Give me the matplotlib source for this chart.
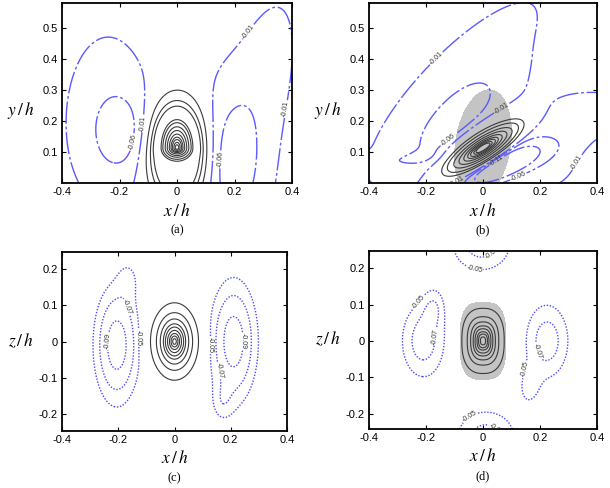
import numpy as np
import matplotlib
matplotlib.use("Agg")
import matplotlib.pyplot as plt

plt.rcParams['font.family'] = ['Liberation Sans', 'DejaVu Sans']
plt.rcParams['mathtext.fontset'] = 'stix'

# ---------------- data: blob parameters describing each field ----------------
# amplitude, x centre, y centre, sigma along u, sigma along +v, sigma along -v, angle (deg), exponent
a_amp = [4.0, 0.35, -0.075, -0.035, -0.085, -0.03]
a_xc = [0.0, 0.0, -0.20, -0.24, 0.20, 0.27]
a_yc = [0.113, 0.10, 0.165, 0.20, 0.06, 0.25]
a_su = [0.024, 0.06, 0.06, 0.09, 0.065, 0.07]
a_sv = [0.040, 0.10, 0.085, 0.17, 0.15, 0.22]
a_svlo = [0.017, 0.10, 0.085, 0.17, 0.15, 0.22]
a_ang = [0, 0, 0, 0, 0, -15]
a_pw = [2, 2, 2, 2, 2, 2]

b_amp = [4.0, 0.3, -0.08, -0.035, -0.16, -0.07, -0.025, 0.02, -0.03]
b_xc = [0.0, -0.005, -0.09, -0.10, 0.045, 0.15, 0.20, 0.42, -0.32]
b_yc = [0.113, 0.12, 0.20, 0.31, 0.045, 0.09, 0.12, 0.08, 0.07]
b_su = [0.064, 0.09, 0.14, 0.24, 0.085, 0.10, 0.25, 0.07, 0.20]
b_sv = [0.018, 0.035, 0.05, 0.07, 0.028, 0.04, 0.10, 0.05, 0.018]
b_svlo = b_sv
b_ang = [30, 30, 40, 43, 22, 15, 20, 0, 5]
b_pw = [2, 2, 2, 2, 2, 2, 2, 2, 2]

b_shade_amp = [1.0]
b_shade_xc = [0.0]
b_shade_yc = [0.125]
b_shade_su = [0.175]
b_shade_sv = [0.095]
b_shade_ang = [80]
b_shade_pw = [2]
b_shade_level = 0.6

c_amp = [4.0, -0.10, -0.025, -0.10, -0.025]
c_xc = [0.0, -0.205, -0.16, 0.21, 0.165]
c_yc = [0.0, -0.01, 0.18, 0.0, -0.175]
c_su = [0.035, 0.072, 0.03, 0.075, 0.03]
c_sv = [0.043, 0.145, 0.04, 0.15, 0.04]
c_svlo = c_sv
c_ang = [0, 0, 0, 0, 0]
c_pw = [2, 2, 2, 2, 2]

d_amp = [4.0, -0.08, -0.03, -0.08, -0.035, -0.08, -0.08]
d_xc = [0.0, -0.21, -0.17, 0.225, 0.16, -0.005, 0.01]
d_yc = [0.0, 0.0, 0.10, 0.0, -0.13, 0.27, -0.27]
d_su = [0.0375, 0.075, 0.03, 0.075, 0.03, 0.10, 0.10]
d_sv = [0.045, 0.10, 0.04, 0.10, 0.04, 0.076, 0.076]
d_svlo = d_sv
d_ang = [0, 0, 0, 0, 0, 0, 0]
d_pw = [2.5, 2, 2, 2, 2, 2, 2]

d_shade_amp = [1.0]
d_shade_xc = [0.0]
d_shade_yc = [0.0]
d_shade_su = [0.08]
d_shade_sv = [0.105]
d_shade_ang = [0]
d_shade_pw = [3]
d_shade_level = 0.6

a_pos_levels = [0.047, 0.09, 0.13, 0.5, 0.73, 1.19, 1.77, 2.45, 3.06, 3.51, 3.95, 4.21]
a_neg_levels = [-0.11, -0.06, -0.01]
b_pos_levels = [0.18, 0.4, 0.86, 1.44, 2.12, 2.73, 3.18, 3.62, 3.88]
b_neg_levels = [-0.11, -0.06, -0.01]
c_pos_levels = [0.18, 0.72, 1.4, 2.1, 2.6, 3.1, 3.5, 3.76, 3.93]
c_neg_levels = [-0.09, -0.07, -0.05]
d_pos_levels = [0.24, 1.06, 1.94, 2.67, 3.16, 3.56, 3.78, 3.94]
d_neg_levels = [-0.07, -0.05]

x_ticks = [-0.4, -0.2, 0, 0.2, 0.4]
x_ticklabels = ['-0.4', '-0.2', '0', '0.2', '0.4']
y_ticks_ab = [0.1, 0.2, 0.3, 0.4, 0.5]
y_ticklabels_ab = ['0.1', '0.2', '0.3', '0.4', '0.5']
y_ticks_cd = [-0.2, -0.1, 0, 0.1, 0.2]
y_ticklabels_cd = ['-0.2', '-0.1', '0', '0.1', '0.2']
captions = ['(a)', '(b)', '(c)', '(d)']


def field(X, Y, amp, xc, yc, su, sv, svlo, ang, pw):
    Z = np.zeros_like(X)
    for A, x0, y0, a, b, blo, t, p in zip(amp, xc, yc, su, sv, svlo, ang, pw):
        th = np.deg2rad(t)
        dx, dy = X - x0, Y - y0
        u = dx * np.cos(th) + dy * np.sin(th)
        v = -dx * np.sin(th) + dy * np.cos(th)
        bb = np.where(v >= 0, b, blo)
        Z += A * np.exp(-0.5 * (np.abs(u / a) ** p + np.abs(v / bb) ** p))
    return Z


fig = plt.figure(figsize=(6.1, 4.88), dpi=100)
positions = [
    [62 / 610, 1 - 183 / 488, 230 / 610, 180 / 488],
    [369 / 610, 1 - 183 / 488, 228 / 610, 180 / 488],
    [62 / 610, 1 - 431 / 488, 225 / 610, 179 / 488],
    [369 / 610, 1 - 429 / 488, 228 / 610, 178 / 488],
]

xg = np.linspace(-0.4, 0.4, 401)
yg_ab = np.linspace(0.0, 0.58, 291)
yg_cd = np.linspace(-0.25, 0.25, 251)

blue_ab = '#5a5aff'
blue_cd = '#4a4aff'
black = '#3a3a3a'
shade = '#c4c4c4'

panels = [
    dict(params=(a_amp, a_xc, a_yc, a_su, a_sv, a_svlo, a_ang, a_pw), pos=a_pos_levels, neg=a_neg_levels,
         yg=yg_ab, ylim=(0, 0.58), yt=y_ticks_ab, ytl=y_ticklabels_ab, ylab=r'$y\,/\,h$', ls=(0, (16, 2, 2, 2)),
         blue=blue_ab, shade=None),
    dict(params=(b_amp, b_xc, b_yc, b_su, b_sv, b_svlo, b_ang, b_pw), pos=b_pos_levels, neg=b_neg_levels,
         yg=yg_ab, ylim=(0, 0.58), yt=y_ticks_ab, ytl=y_ticklabels_ab, ylab=r'$y\,/\,h$', ls=(0, (16, 2, 2, 2)),
         blue=blue_ab,
         shade=((b_shade_amp, b_shade_xc, b_shade_yc, b_shade_su, b_shade_sv, b_shade_sv, b_shade_ang, b_shade_pw),
                b_shade_level)),
    dict(params=(c_amp, c_xc, c_yc, c_su, c_sv, c_svlo, c_ang, c_pw), pos=c_pos_levels, neg=c_neg_levels,
         yg=yg_cd, ylim=(-0.247, 0.247), yt=y_ticks_cd, ytl=y_ticklabels_cd, ylab=r'$z\,/\,h$', ls=(0, (1, 1.2)),
         blue=blue_cd, shade=None),
    dict(params=(d_amp, d_xc, d_yc, d_su, d_sv, d_svlo, d_ang, d_pw), pos=d_pos_levels, neg=d_neg_levels,
         yg=yg_cd, ylim=(-0.242, 0.247), yt=y_ticks_cd, ytl=y_ticklabels_cd, ylab=r'$z\,/\,h$', ls=(0, (1, 1.2)),
         blue=blue_cd,
         shade=((d_shade_amp, d_shade_xc, d_shade_yc, d_shade_su, d_shade_sv, d_shade_sv, d_shade_ang, d_shade_pw),
                d_shade_level)),
]

for i, p in enumerate(panels):
    ax = fig.add_axes(positions[i])
    X, Y = np.meshgrid(xg, p['yg'])
    if p['shade'] is not None:
        sp, lev = p['shade']
        S = field(X, Y, *sp)
        ax.contourf(X, Y, S, levels=[lev, 10], colors=[shade])
    Z = field(X, Y, *p['params'])
    ax.contour(X, Y, Z, levels=p['pos'], colors=black, linewidths=0.8)
    cn = ax.contour(X, Y, Z, levels=p['neg'], colors=p['blue'], linewidths=1.0)
    cn.set_linestyle(p['ls'])
    ax.clabel(cn, fmt='%.2f', fontsize=5, colors='#333333', inline=True, inline_spacing=1)
    ax.set_xlim(-0.4, 0.4)
    ax.set_ylim(*p['ylim'])
    ax.set_xticks(x_ticks)
    ax.set_xticklabels(x_ticklabels)
    ax.set_yticks(p['yt'])
    ax.set_yticklabels(p['ytl'])
    ax.tick_params(direction='in', top=True, right=True, length=3, width=0.8,
                   labelsize=8, pad=3, colors='black')
    for s in ax.spines.values():
        s.set_linewidth(1.3)
    ax.text(0.5, -0.15, r'$x\,/\,h$', transform=ax.transAxes, ha='center', va='center', fontsize=12.5)
    ax.text(-0.18, 0.405 if i < 2 else 0.505, p['ylab'], transform=ax.transAxes,
            ha='center', va='center', fontsize=12.5)
    ax.text(0.5, -0.265, captions[i], transform=ax.transAxes, ha='center', va='center',
            fontsize=9, family='Liberation Serif')

fig.savefig('out.png', dpi=100)
